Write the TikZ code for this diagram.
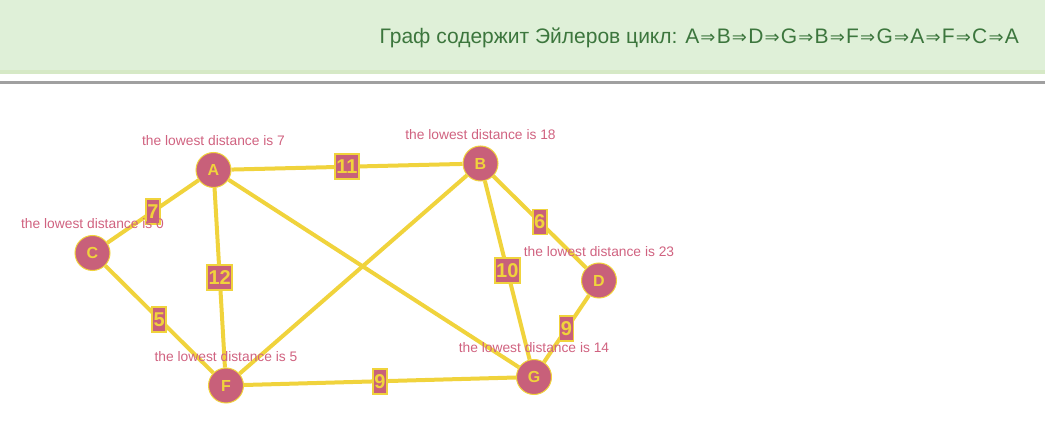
\documentclass[tikz,border=0pt]{standalone}
\usepackage{fontspec}
\setmainfont{Liberation Sans}
\newfontfamily\arrowfont{DejaVu Sans}
\usetikzlibrary{positioning}

\definecolor{vertexpink}{RGB}{200,96,122}
\definecolor{edgeyellow}{RGB}{240,211,60}
\definecolor{distpink}{RGB}{208,98,128}
\definecolor{headgreen}{RGB}{223,240,216}
\definecolor{headborder}{RGB}{214,233,198}
\definecolor{headtext}{RGB}{60,118,61}
\definecolor{rulegray}{RGB}{160,160,160}
\newcommand{\arr}{\kern1.2pt{\arrowfont\fontsize{18}{18}\selectfont ⇒}\kern1.2pt}

\begin{document}
\begin{tikzpicture}[x=1pt,y=-1pt,
  vertex/.style={circle, fill=vertexpink, draw=edgeyellow, line width=1pt,
    minimum size=35pt, inner sep=0pt, text=edgeyellow,
    font=\bfseries\fontsize{16}{16}\selectfont},
  weight/.style={rectangle, fill=vertexpink, draw=edgeyellow, line width=1.8pt,
    inner xsep=1.5pt, inner ysep=0pt, minimum height=25pt, text=edgeyellow,
    font=\bfseries\fontsize{20}{20}\selectfont},
  dist/.style={inner sep=0pt, text=distpink, font=\fontsize{13.8}{13.8}\selectfont},
  edge/.style={draw=edgeyellow, line width=4pt}]

\useasboundingbox (0,0) rectangle (1045,430);

% Draw header
\fill[headgreen] (0,0) rectangle (1045,74);
\fill[headborder] (0,70) rectangle (1045,74);
\fill[rulegray] (0,81) rectangle (1045,84);
\node[anchor=base east, inner sep=0pt, text=headtext,
    font=\fontsize{21}{21}\selectfont] (title) at (1019,43.5)
    {Граф содержит Эйлеров цикл: A\arr B\arr D\arr G\arr B\arr F\arr G\arr A\arr F\arr C\arr A};

% Draw vertices
\node[vertex] (A) at (213.5,170) {A};
\node[vertex] (B) at (480.5,163.5) {B};
\node[vertex] (C) at (92.5,253) {C};
\node[vertex] (D) at (599,280.5) {D};
\node[vertex] (F) at (226,385.5) {F};
\node[vertex] (G) at (534,377) {G};

% Draw edges
\draw[edge] (A) -- (G);
\draw[edge] (B) -- (F);
\draw[edge] (A) -- node[weight]{11} (B);
\draw[edge] (A) -- node[weight]{7} (C);
\draw[edge] (A) -- node[weight]{12} (F);
\draw[edge] (C) -- node[weight]{5} (F);
\draw[edge] (F) -- node[weight]{9} (G);
\draw[edge] (B) -- node[weight]{10} (G);
\draw[edge] (B) -- node[weight]{6} (D);
\draw[edge] (D) -- node[weight]{9} (G);

% distances
\node[dist, above=6pt of A] (distA) {the lowest distance is 7};
\node[dist, above=6pt of B] (distB) {the lowest distance is 18};
\node[dist, above=6pt of C] (distC) {the lowest distance is 0};
\node[dist, above=6pt of D] (distD) {the lowest distance is 23};
\node[dist, above=6pt of F] (distF) {the lowest distance is 5};
\node[dist, above=6pt of G] (distG) {the lowest distance is 14};
\end{tikzpicture}
\end{document}
